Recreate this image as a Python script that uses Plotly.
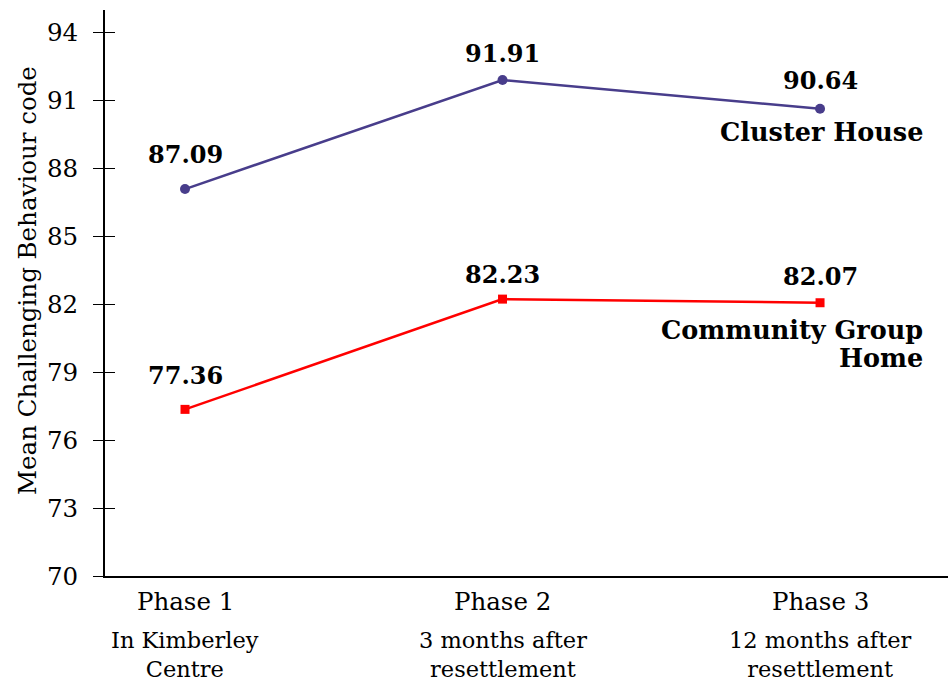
import plotly.graph_objects as go

phases = ["Phase 1", "Phase 2", "Phase 3"]
phase_sub = ["In Kimberley<br>Centre", "3 months after<br>resettlement", "12 months after<br>resettlement"]
x_pos = [0, 1, 2]
cluster = [87.09, 91.91, 90.64]
community = [77.36, 82.23, 82.07]
y_ticks = [70, 73, 76, 79, 82, 85, 88, 91, 94]

FONT = "DejaVu Serif"
FS = 24.5
FS_SUB = 22.5
FS_NUM = 24
FS_NAME = 25.5
PURPLE = "#483D8B"
RED = "#FF0000"

fig = go.Figure()
fig.add_trace(go.Scatter(x=x_pos, y=cluster, mode="lines+markers",
                         line=dict(color=PURPLE, width=2.5),
                         marker=dict(symbol="circle", size=10, color=PURPLE),
                         showlegend=False))
fig.add_trace(go.Scatter(x=x_pos, y=community, mode="lines+markers",
                         line=dict(color=RED, width=2.5),
                         marker=dict(symbol="square", size=9, color=RED),
                         showlegend=False))
# invisible trace for the inside-tick overlay axis
fig.add_trace(go.Scatter(x=[x_pos[0]], y=[y_ticks[0]], yaxis="y2", mode="markers",
                         marker=dict(opacity=0), showlegend=False, hoverinfo="skip"))

annotations = []
cl_shift = [10, 2, 4]
cm_shift = [9, 0, 2]
for xi, v, s in zip(x_pos, cluster, cl_shift):
    annotations.append(dict(x=xi, y=v, xref="x", yref="y", text=f"<b>{v:.2f}</b>",
                            showarrow=False, yanchor="bottom", yshift=s + 8,
                            font=dict(family=FONT, size=FS_NUM, color="black")))
for xi, v, s in zip(x_pos, community, cm_shift):
    annotations.append(dict(x=xi, y=v, xref="x", yref="y", text=f"<b>{v:.2f}</b>",
                            showarrow=False, yanchor="bottom", yshift=s + 8,
                            font=dict(family=FONT, size=FS_NUM, color="black")))

# series labels
annotations.append(dict(x=x_pos[2], y=cluster[2], xref="x", yref="y",
                        text="<b>Cluster House</b>", showarrow=False,
                        xanchor="right", yanchor="middle", xshift=105, yshift=-23,
                        font=dict(family=FONT, size=FS_NAME, color="black")))
annotations.append(dict(x=x_pos[2], y=community[2], xref="x", yref="y",
                        text="<b>Community Group</b>", showarrow=False,
                        xanchor="right", yanchor="middle", xshift=105, yshift=-27,
                        font=dict(family=FONT, size=FS_NAME, color="black")))
annotations.append(dict(x=x_pos[2], y=community[2], xref="x", yref="y",
                        text="<b>Home</b>", showarrow=False,
                        xanchor="right", yanchor="middle", xshift=105, yshift=-55,
                        font=dict(family=FONT, size=FS_NAME, color="black")))

# x category labels
for xi, p, sub in zip(x_pos, phases, phase_sub):
    annotations.append(dict(x=xi, y=0, xref="x", yref="paper", text=p,
                            showarrow=False, xanchor="center", yanchor="middle",
                            yshift=-25, font=dict(family=FONT, size=FS, color="black")))
    annotations.append(dict(x=xi, y=0, xref="x", yref="paper", text=sub,
                            showarrow=False, xanchor="center", yanchor="middle",
                            yshift=-78, font=dict(family=FONT, size=FS_SUB, color="black")))

# y title
annotations.append(dict(x=0, y=(576 - 281) / 566, xref="paper", yref="paper",
                        text="Mean Challenging Behaviour code", textangle=-90,
                        showarrow=False, xanchor="center", yanchor="middle", xshift=-78,
                        font=dict(family=FONT, size=FS, color="black")))

fig.update_layout(
    width=948, height=682,
    margin=dict(l=105, r=0, t=10, b=106),
    paper_bgcolor="white", plot_bgcolor="white",
    font=dict(family=FONT, size=FS, color="black"),
    xaxis=dict(range=[-0.252, 2.403], showgrid=False, zeroline=False,
               showline=True, linecolor="black", linewidth=2,
               showticklabels=False, ticks=""),
    yaxis=dict(range=[70, 95], tickvals=y_ticks, showgrid=False, zeroline=False,
               showline=True, linecolor="black", linewidth=2,
               ticks="outside", ticklen=10, tickwidth=1.2, tickcolor="black",
               ticklabelstandoff=10,
               tickfont=dict(family=FONT, size=FS, color="black")),
    yaxis2=dict(range=[70, 95], tickvals=y_ticks, overlaying="y", side="left",
                showgrid=False, zeroline=False, showline=False,
                ticks="inside", ticklen=10, tickwidth=1.2, tickcolor="black",
                showticklabels=False),
    annotations=annotations,
)

fig.write_html("out.html", config={"displayModeBar": False},
               post_script="document.body.style.margin='0';document.body.style.overflow='hidden';")
